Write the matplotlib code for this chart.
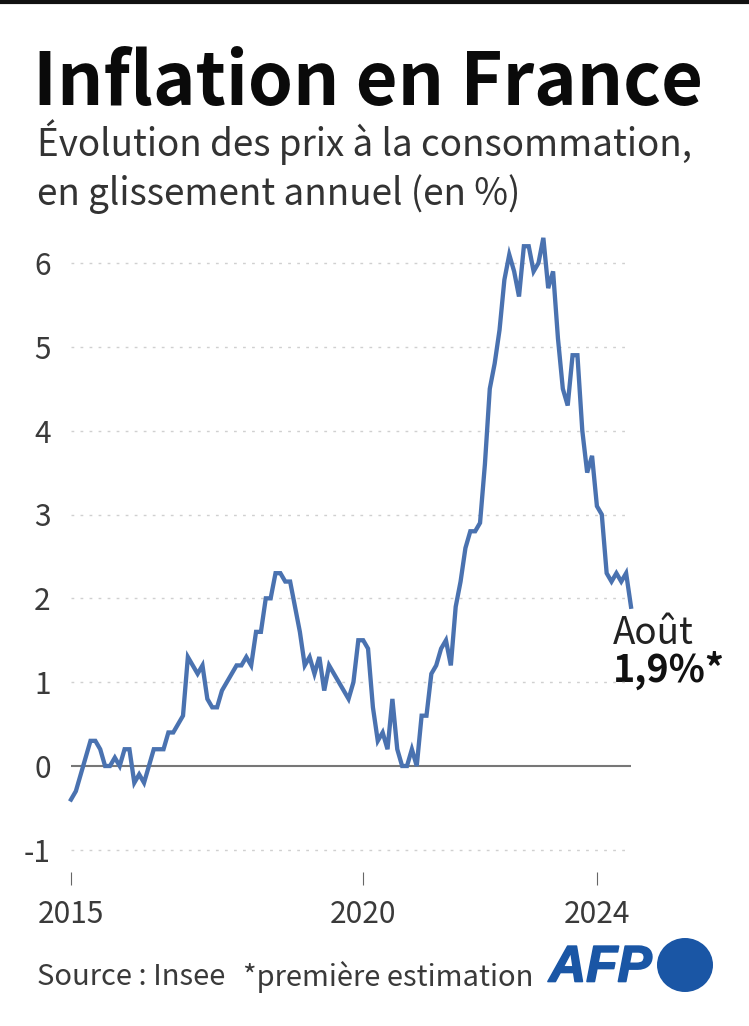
import matplotlib
matplotlib.use('Agg')
import matplotlib.pyplot as plt
import matplotlib.patheffects as pe
from matplotlib.patches import Ellipse

plt.rcParams['font.family'] = ['Noto Sans CJK SC', 'DejaVu Sans']

W, H = 749, 1026

# Glissement annuel, un point par mois, janvier 2015 -> aout 2024
y2015 = [-0.4, -0.3, -0.1, 0.1, 0.3, 0.3, 0.2, 0.0, 0.0, 0.1, 0.0, 0.2]
y2016 = [0.2, -0.2, -0.1, -0.2, 0.0, 0.2, 0.2, 0.2, 0.4, 0.4, 0.5, 0.6]
y2017 = [1.3, 1.2, 1.1, 1.2, 0.8, 0.7, 0.7, 0.9, 1.0, 1.1, 1.2, 1.2]
y2018 = [1.3, 1.2, 1.6, 1.6, 2.0, 2.0, 2.3, 2.3, 2.2, 2.2, 1.9, 1.6]
y2019 = [1.2, 1.3, 1.1, 1.3, 0.9, 1.2, 1.1, 1.0, 0.9, 0.8, 1.0, 1.5]
y2020 = [1.5, 1.4, 0.7, 0.3, 0.4, 0.2, 0.8, 0.2, 0.0, 0.0, 0.2, 0.0]
y2021 = [0.6, 0.6, 1.1, 1.2, 1.4, 1.5, 1.2, 1.9, 2.2, 2.6, 2.8, 2.8]
y2022 = [2.9, 3.6, 4.5, 4.8, 5.2, 5.8, 6.1, 5.9, 5.6, 6.2, 6.2, 5.9]
y2023 = [6.0, 6.3, 5.7, 5.9, 5.1, 4.5, 4.3, 4.9, 4.9, 4.0, 3.5, 3.7]
y2024 = [3.1, 3.0, 2.3, 2.2, 2.3, 2.2, 2.3, 1.9]
values = y2015 + y2016 + y2017 + y2018 + y2019 + y2020 + y2021 + y2022 + y2023 + y2024
months = list(range(len(values)))

y_ticks = [-1, 0, 1, 2, 3, 4, 5, 6]
y_labels = ['-1', '0', '1', '2', '3', '4', '5', '6']
x_ticks = [0, 60, 108]
x_labels = ['2015', '2020', '2024']

fig = plt.figure(figsize=(W / 100, H / 100), dpi=100)

# axe plein cadre en pixels pour les textes et le logo
bg = fig.add_axes([0, 0, 1, 1])
bg.set_xlim(0, W)
bg.set_ylim(H, 0)
bg.axis('off')

# graphique : 0 a y=766 px, 6 a y=263 px, tiques en bas a 885 px
px_per_unit = (766 - 263) / 6
y_bottom = -(885 - 766) / px_per_unit
y_top = (766 - 225) / px_per_unit
ax = fig.add_axes([71 / W, (H - 885) / H, 560 / W, (885 - 225) / H])
ax.patch.set_alpha(0)
ax.set_xlim(0, 115)
ax.set_ylim(y_bottom, y_top)
for side in ['top', 'right', 'left', 'bottom']:
    ax.spines[side].set_visible(False)

for t in y_ticks:
    if t == 0:
        ax.axhline(0, color='#777777', lw=1.5, zorder=2)
    else:
        ax.axhline(t, color='#d0d0d0', lw=1.0, ls=(0, (2, 4.5)), zorder=1)

ax.plot(months, values, color='#4a72b0', lw=3.1, solid_joinstyle='miter', zorder=3, clip_on=False)

ax.set_xticks(x_ticks)
ax.set_xticklabels(x_labels, fontsize=21.5, color='#3a3a3a')
ax.tick_params(axis='x', direction='in', length=9.5, width=0.8, color='#666666', pad=10)
ax.set_yticks(y_ticks)
ax.set_yticklabels(y_labels, fontsize=21.5, color='#3a3a3a')
ax.tick_params(axis='y', length=0, pad=14.5)

bg.plot([0, W], [1.5, 1.5], color='#111111', lw=3)
bg.text(33, 105, 'Inflation en France', fontsize=52, fontweight='bold', color='#0a0a0a', va='baseline', ha='left')
bg.text(37, 156, 'Évolution des prix à la consommation,', fontsize=26.5, color='#333333', va='baseline', ha='left')
bg.text(37, 205, 'en glissement annuel (en %)', fontsize=26.5, color='#333333', va='baseline', ha='left')

bg.text(613, 634, 'Août', fontsize=26.5, color='#222222', va='center', ha='left')
bg.text(613, 670, '1,9%*', fontsize=27, fontweight='bold', color='#111111', va='center', ha='left')

bg.text(37, 977, 'Source : Insee', fontsize=21, color='#3a3a3a', va='center', ha='left')
bg.text(243, 977, '*première estimation', fontsize=21, color='#3a3a3a', va='center', ha='left')

bg.text(549, 968, 'AFP', fontsize=37, fontweight='bold', style='italic', color='#1a56a5', family='Liberation Sans',
        va='center', ha='left', path_effects=[pe.withStroke(linewidth=1.2, foreground='#1a56a5')])
bg.add_patch(Ellipse((685, 965), 56, 54, color='#1a56a5', lw=0))

fig.savefig('out.png', dpi=100)
